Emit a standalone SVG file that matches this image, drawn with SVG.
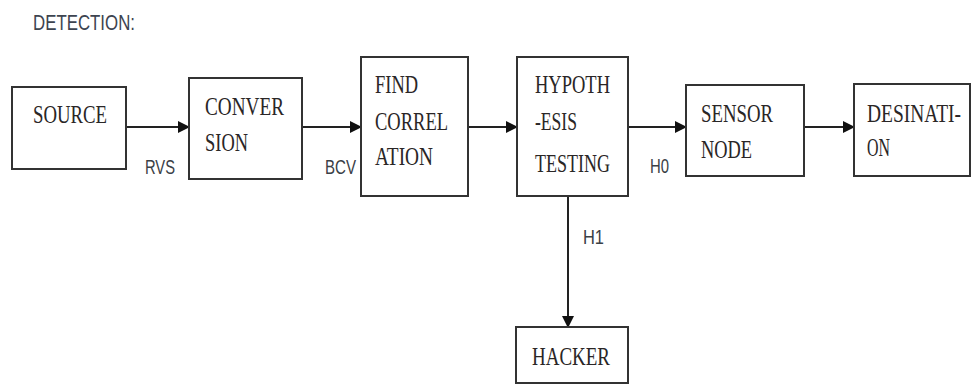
<svg xmlns="http://www.w3.org/2000/svg" width="972" height="385" viewBox="0 0 972 385">
<style>
.box{fill:#fff;stroke:#333;stroke-width:2}
.t{font-family:"Liberation Serif",serif;font-size:19px;fill:#2a2626}
.s{font-family:"Liberation Sans",sans-serif;font-size:15px;fill:#3a4046}
.c{stroke:#222;stroke-width:2;fill:none}
</style>
<defs>
<marker id="ah" markerWidth="12" markerHeight="12" refX="11" refY="6" orient="auto" markerUnits="userSpaceOnUse">
<path d="M0,0 L12,6 L0,12 Z" fill="#111"/>
</marker>
</defs>
<rect width="972" height="385" fill="#fff"/>
<text transform="translate(33,30) scale(1,1.35)" font-family="'Liberation Sans',sans-serif" font-size="17" fill="#3d4450" textLength="102" lengthAdjust="spacingAndGlyphs">DETECTION:</text>
<g id="connectors">
<line class="c" x1="126" y1="127" x2="189" y2="127" marker-end="url(#ah)"/>
<line class="c" x1="302" y1="127" x2="361" y2="127" marker-end="url(#ah)"/>
<line class="c" x1="468" y1="127" x2="517" y2="127" marker-end="url(#ah)"/>
<line class="c" x1="628" y1="127" x2="686" y2="127" marker-end="url(#ah)"/>
<line class="c" x1="804" y1="127" x2="854" y2="127" marker-end="url(#ah)"/>
<line class="c" x1="568" y1="196" x2="568" y2="327" marker-end="url(#ah)"/>
<text class="s" transform="translate(145,174) scale(1,1.35)" textLength="30" lengthAdjust="spacingAndGlyphs">RVS</text>
<text class="s" transform="translate(325,174) scale(1,1.35)" textLength="31" lengthAdjust="spacingAndGlyphs">BCV</text>
<text class="s" transform="translate(650,173) scale(1,1.35)" textLength="19" lengthAdjust="spacingAndGlyphs" fill="#3d4a2a">H0</text>
<text class="s" transform="translate(583,244) scale(1,1.35)" textLength="21" lengthAdjust="spacingAndGlyphs" fill="#2a6a7a">H1</text>
</g>
<g id="source">
<rect class="box" x="12" y="87" width="114" height="82"/>
<text class="t" transform="translate(33,123) scale(1,1.37)" textLength="74" lengthAdjust="spacingAndGlyphs">SOURCE</text>
</g>
<g id="conversion">
<rect class="box" x="189" y="78" width="113" height="101"/>
<text class="t" transform="translate(205,115) scale(1,1.37)" textLength="79" lengthAdjust="spacingAndGlyphs">CONVER</text>
<text class="t" transform="translate(205,151) scale(1,1.37)" textLength="43" lengthAdjust="spacingAndGlyphs">SION</text>
</g>
<g id="find-correlation">
<rect class="box" x="361" y="57" width="107" height="139"/>
<text class="t" transform="translate(375,93) scale(1,1.37)" textLength="43" lengthAdjust="spacingAndGlyphs">FIND</text>
<text class="t" transform="translate(375,130) scale(1,1.37)" textLength="73" lengthAdjust="spacingAndGlyphs">CORREL</text>
<text class="t" transform="translate(375,165) scale(1,1.37)" textLength="58" lengthAdjust="spacingAndGlyphs">ATION</text>
</g>
<g id="hypothesis">
<rect class="box" x="517" y="57" width="111" height="139"/>
<text class="t" transform="translate(535,93) scale(1,1.37)" textLength="75" lengthAdjust="spacingAndGlyphs">HYPOTH</text>
<text class="t" transform="translate(535,130) scale(1,1.37)" textLength="42" lengthAdjust="spacingAndGlyphs">-ESIS</text>
<text class="t" transform="translate(535,172) scale(1,1.37)" textLength="75" lengthAdjust="spacingAndGlyphs">TESTING</text>
</g>
<g id="sensor-node">
<rect class="box" x="686" y="85" width="118" height="91"/>
<text class="t" transform="translate(701,122) scale(1,1.37)" textLength="72" lengthAdjust="spacingAndGlyphs">SENSOR</text>
<text class="t" transform="translate(701,158) scale(1,1.37)" textLength="51" lengthAdjust="spacingAndGlyphs">NODE</text>
</g>
<g id="destination">
<rect class="box" x="854" y="84" width="116" height="92"/>
<text class="t" transform="translate(867,122) scale(1,1.37)" textLength="94" lengthAdjust="spacingAndGlyphs">DESINATI-</text>
<text class="t" transform="translate(867,156) scale(1,1.37)" textLength="23" lengthAdjust="spacingAndGlyphs">ON</text>
</g>
<g id="hacker">
<rect class="box" x="516" y="327" width="112" height="56"/>
<text class="t" transform="translate(532,365) scale(1,1.37)" textLength="78" lengthAdjust="spacingAndGlyphs">HACKER</text>
</g>
</svg>
